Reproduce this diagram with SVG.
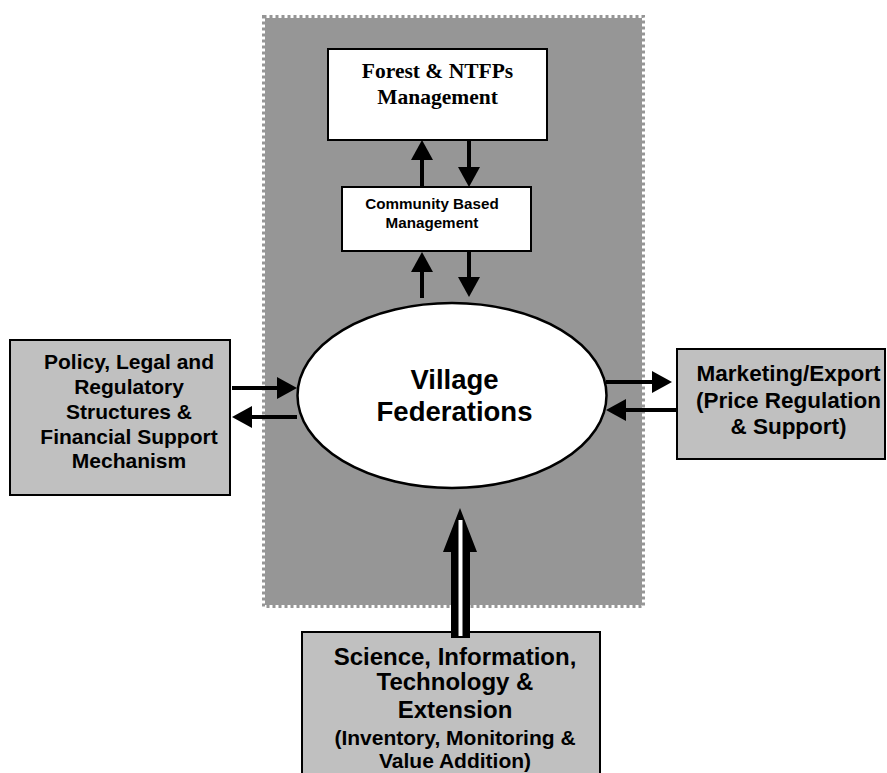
<svg xmlns="http://www.w3.org/2000/svg" width="887" height="773" viewBox="0 0 887 773">
<style>
.box{stroke:#000;stroke-width:2}
.wbox{fill:#fff}
.gbox{fill:#c0c0c0}
.sans{font-family:"Liberation Sans",Arial,sans-serif;font-weight:bold;fill:#000;text-anchor:middle}
.serif{font-family:"Liberation Serif","Times New Roman",serif;font-weight:bold;fill:#000;text-anchor:middle}
.sh{stroke:#000;stroke-width:4;fill:none;marker-end:url(#ah)}
</style>
<defs>
<marker id="ah" markerUnits="userSpaceOnUse" markerWidth="20" markerHeight="22" refX="0" refY="11" orient="auto" viewBox="0 0 20 22">
<path d="M0,0 L20,11 L0,22 z" fill="#000"/>
</marker>
</defs>
<rect width="887" height="773" fill="#fff"/>
<g id="panel">
<rect x="263.5" y="16.5" width="380" height="590" fill="#969696" stroke="#fff" stroke-width="3"/>
<rect x="263.5" y="16.5" width="380" height="590" fill="none" stroke="#969696" stroke-width="3" stroke-dasharray="3 3"/>
</g>
<g id="forest">
<rect class="box wbox" x="328" y="49" width="219" height="91"/>
<text class="serif" font-size="21.5" x="437.5" y="78">Forest &amp; NTFPs</text>
<text class="serif" font-size="21.5" x="437.5" y="104">Management</text>
</g>
<g id="community">
<rect class="box wbox" x="342" y="187" width="189" height="64"/>
<text class="sans" font-size="15.2" x="432" y="209">Community Based</text>
<text class="sans" font-size="15.2" x="432" y="228">Management</text>
</g>
<g id="village">
<ellipse cx="452" cy="395.5" rx="154.5" ry="92.5" fill="#fff" stroke="#000" stroke-width="2.5"/>
<text class="sans" font-size="27.5" x="454.5" y="389">Village</text>
<text class="sans" font-size="27.5" x="454.5" y="421">Federations</text>
</g>
<g id="policy">
<rect class="box gbox" x="10" y="340" width="220" height="155"/>
<text class="sans" font-size="21" x="129" y="369">Policy, Legal and</text>
<text class="sans" font-size="21" x="129" y="394">Regulatory</text>
<text class="sans" font-size="21" x="129" y="419">Structures &amp;</text>
<text class="sans" font-size="21" x="129" y="443.5">Financial Support</text>
<text class="sans" font-size="21" x="129" y="468">Mechanism</text>
</g>
<g id="marketing">
<rect class="box gbox" x="677" y="349" width="208" height="110"/>
<text class="sans" font-size="22.5" x="788.5" y="381">Marketing/Export</text>
<text class="sans" font-size="22.5" x="788.5" y="408">(Price Regulation</text>
<text class="sans" font-size="22.5" x="788.5" y="434">&amp; Support)</text>
</g>
<g id="science">
<rect class="box gbox" x="302" y="632" width="298" height="150"/>
<text class="sans" font-size="24" x="455" y="665">Science, Information,</text>
<text class="sans" font-size="24" x="455" y="690">Technology &amp;</text>
<text class="sans" font-size="24" x="455" y="718">Extension</text>
<text class="sans" font-size="21" x="455" y="745">(Inventory, Monitoring &amp;</text>
<text class="sans" font-size="21" x="455" y="768">Value Addition)</text>
</g>
<g id="connectors">
<line class="sh" x1="422" y1="187" x2="422" y2="160"/>
<line class="sh" x1="469" y1="140" x2="469" y2="167"/>
<line class="sh" x1="422" y1="298" x2="422" y2="272"/>
<line class="sh" x1="469" y1="251" x2="469" y2="277"/>
<line class="sh" x1="232" y1="388" x2="277" y2="388"/>
<line class="sh" x1="297" y1="417" x2="252" y2="417"/>
<line class="sh" x1="606" y1="382" x2="652" y2="382"/>
<line class="sh" x1="676" y1="410" x2="626" y2="410"/>
<g id="science-arrow">
<polygon points="451,638 451,552 443,552 460,508 477,552 470,552 470,638" fill="#000"/>
<line x1="460.5" y1="636" x2="460.5" y2="520" stroke="#fff" stroke-width="4"/>
</g>
</g>
</svg>
